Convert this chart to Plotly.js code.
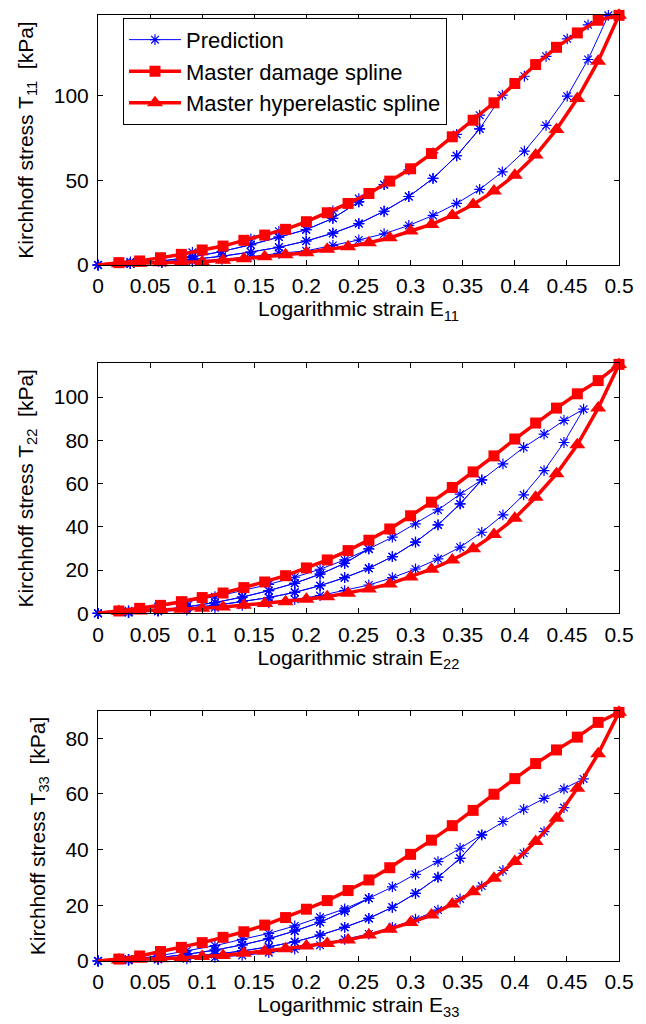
<!DOCTYPE html>
<html>
<head>
<meta charset="utf-8">
<script src="https://cdn.plot.ly/plotly-3.0.1.min.js"></script>
<style>html,body{margin:0;padding:0;background:#fff;}</style>
</head>
<body>
<div id="chart" style="width:646px;height:1024px;"></div>
<script>
// ---------- DATA ----------
// Master splines (common strain grid)
const splineStrain = [0,0.02,0.04,0.06,0.08,0.10,0.12,0.14,0.16,0.18,0.20,0.22,0.24,0.26,0.28,0.30,0.32,0.34,0.36,0.38,0.40,0.42,0.44,0.46,0.48,0.50];

const damage11 = [0,1.4,2.4,4.3,6.3,8.9,11.2,14.6,17.7,21.1,25.6,30.9,36.4,42.3,49.6,56.9,65.9,75.8,85.6,95.9,107.3,118.5,128.7,137.2,144.7,147.6];
const hyper11  = [0,0.8,1.0,1.4,1.6,2.0,2.8,3.7,4.9,6.1,7.3,9.3,10.8,13.2,16.1,20.1,24.0,29.3,35.8,43.7,53.1,65.0,80.1,98.4,120.5,147.6];

const damage22 = [0,1.1,2.3,3.7,5.4,7.3,9.4,11.9,14.5,17.4,21.0,24.7,29.0,33.8,39.0,45.1,51.4,58.2,65.4,72.8,80.6,88.0,94.9,101.5,107.6,115.1];
const hyper22  = [0,0.8,1.1,1.5,1.9,2.3,2.9,3.7,4.6,5.4,6.5,7.7,9.3,11.3,13.6,16.8,20.4,24.7,29.9,36.4,44.0,53.7,64.5,77.9,94.9,115.1];

const damage33 = [0,0.7,1.8,3.4,4.9,6.6,8.5,10.5,12.9,15.6,18.6,21.7,25.3,29.1,33.5,38.3,43.4,48.6,54.1,59.9,65.5,70.9,75.8,80.4,85.7,89.3];
const hyper33  = [0,0.4,0.6,0.8,1.1,1.6,2.0,2.8,3.5,4.4,5.4,6.3,7.5,9.3,11.4,13.8,16.5,20.5,24.9,29.7,35.7,42.9,51.3,62.0,74.4,89.3];

// Prediction strain steps
const predStrain11 = [0,0.0311,0.0613,0.0906,0.1190,0.1467,0.1736,0.1998,0.2254,0.2503,0.2746,0.2983,0.3215,0.3442,0.3663,0.3880,0.4092,0.4300,0.4503,0.4703,0.4898];
const predStrain22 = [0,0.0293,0.0577,0.0853,0.1122,0.1384,0.1639,0.1888,0.2131,0.2367,0.2599,0.2825,0.3047,0.3263,0.3475,0.3683,0.3886,0.4085,0.4281,0.4472,0.4660];
const predStrain33 = [0,0.0293,0.0577,0.0853,0.1122,0.1384,0.1639,0.1888,0.2131,0.2367,0.2599,0.2825,0.3047,0.3263,0.3475,0.3683,0.3886,0.4085,0.4281,0.4472,0.4660];

// Prediction: primary loading path and unloading/reloading branches
const load11    = [0,1.9,4.4,7.5,11.1,15.5,20.0,25.4,32.0,39.3,47.5,56.3,66.3,77.2,88.6,100.4,111.6,123.4,133.7,142.0,147.6];
const unloadA11 = [0,0.9,2.4,4.8,8.0,12.0,16.5,20.9,27.6,37.3,47.5];
const unloadB11 = [0,0.8,1.8,3.3,5.2,7.7,10.5,14.2,18.8,24.5,31.8,40.5,51.2,64.6,80.5];
const unloadC11 = [0,0.8,1.4,2.2,3.3,4.9,6.9,8.4,11.6,14.8,18.5,23.4,29.3,36.4,44.7,55.1,67.3,82.5,99.8,121.5,147.6];

const load22    = [0,1.2,3.0,5.3,7.7,10.5,13.4,16.7,20.4,24.7,29.8,35.2,41.4,47.8,55.1,61.7,69.1,76.7,82.9,89.2,94.4];
const unloadA22 = [0,0.6,1.5,3.0,5.0,7.5,10.5,13.9,18.1,23.1,29.8];
const unloadB22 = [0,0.5,1.3,2.4,3.7,5.4,7.3,9.7,12.8,16.5,20.8,26.2,32.9,40.9,50.6,61.7];
const unloadC22 = [0,0.4,0.9,1.5,2.6,3.7,4.9,6.5,8.2,10.5,13.1,16.5,20.5,25.2,30.6,37.5,45.5,54.8,66.0,79.0,94.4];

const load33    = [0,0.6,1.8,3.7,5.5,7.8,9.9,12.6,15.7,18.7,22.5,26.6,31.1,35.7,40.5,45.3,50.1,54.5,58.4,61.8,65.4];
const unloadA33 = [0,0.5,1.2,2.4,3.9,5.8,8.0,10.8,13.9,17.9,22.5];
const unloadB33 = [0,0.4,0.8,1.6,2.4,3.6,5.1,6.9,9.3,12.1,15.3,19.3,24.3,30.1,36.9,45.3];
const unloadC33 = [0,0.2,0.5,0.8,1.3,2.0,3.0,4.3,5.7,7.8,9.7,12.1,15.0,18.3,22.3,26.9,32.5,38.7,46.5,55.1,65.4];

const seriesNames = ['Prediction','Master damage spline','Master hyperelastic spline'];
const xTitles = ['Logarithmic strain E<sub>11</sub>','Logarithmic strain E<sub>22</sub>','Logarithmic strain E<sub>33</sub>'];
const yTitles = ['Kirchhoff stress T<sub>11</sub>  [kPa]','Kirchhoff stress T<sub>22</sub>  [kPa]','Kirchhoff stress T<sub>33</sub>  [kPa]'];

// ---------- BUILD ----------
// loading path: load to each peak, unload to zero, reload on the same branch, continue loading
function buildPath(xs, load, branches) {
  const px = [], py = [];
  let k = 0;
  branches.forEach((br, bi) => {
    const p = br.length - 1;
    for (; k <= p; k++) { px.push(xs[k]); py.push(load[k]); }
    for (let j = p; j >= 0; j--) {
      if (j === p && br[j] === load[p]) continue;
      px.push(xs[j]); py.push(br[j]);
    }
    if (bi < branches.length - 1) {
      for (let j = 1; j <= p; j++) { px.push(xs[j]); py.push(br[j]); }
    }
  });
  return {px, py};
}

const panels = [
  {xs: predStrain11, load: load11, br: [unloadA11, unloadB11, unloadC11], dmg: damage11, hyp: hyper11},
  {xs: predStrain22, load: load22, br: [unloadA22, unloadB22, unloadC22], dmg: damage22, hyp: hyper22},
  {xs: predStrain33, load: load33, br: [unloadA33, unloadB33, unloadC33], dmg: damage33, hyp: hyper33}
];

const blue = '#0000ff', red = '#ff0000';
const fontFam = 'Liberation Sans, Arial, Helvetica, sans-serif';
const redLine = {color: red, width: 3.5};

const traces = [];
panels.forEach((p, i) => {
  const xa = i === 0 ? 'x' : 'x' + (i + 1);
  const ya = i === 0 ? 'y' : 'y' + (i + 1);
  const path = buildPath(p.xs, p.load, p.br);
  traces.push({
    x: path.px, y: path.py, xaxis: xa, yaxis: ya, type: 'scatter', mode: 'lines+markers',
    name: seriesNames[0], showlegend: i === 0, legendgroup: 'a', cliponaxis: false,
    line: {color: blue, width: 1},
    marker: {symbol: 'asterisk-open', size: 9, color: blue, line: {color: blue, width: 1.2}}
  });
  // spline segments from the origin to the first marked point (no marker at the origin)
  [p.dmg, p.hyp].forEach(arr => {
    traces.push({
      x: splineStrain.slice(0, 2), y: arr.slice(0, 2), xaxis: xa, yaxis: ya, type: 'scatter', mode: 'lines',
      showlegend: false, hoverinfo: 'skip', line: redLine
    });
  });
  traces.push({
    x: splineStrain.slice(1), y: p.dmg.slice(1), xaxis: xa, yaxis: ya, type: 'scatter', mode: 'lines+markers',
    name: seriesNames[1], showlegend: i === 0, legendgroup: 'b', cliponaxis: false,
    line: redLine,
    marker: {symbol: 'square', size: 11, color: red, line: {color: red, width: 0}}
  });
  traces.push({
    x: splineStrain.slice(1), y: p.hyp.slice(1), xaxis: xa, yaxis: ya, type: 'scatter', mode: 'lines+markers',
    name: seriesNames[2], showlegend: i === 0, legendgroup: 'c', cliponaxis: false,
    line: redLine,
    marker: {symbol: 'triangle-up', size: 14, color: red, line: {color: red, width: 0}}
  });
});

const tickFont = {family: fontFam, size: 21, color: '#000'};
function xAxis(i, anchor) {
  return {
    anchor: anchor, domain: [0, 1], range: [0, 0.5], tick0: 0, dtick: 0.05,
    ticks: 'inside', ticklen: 5, tickwidth: 1, tickcolor: '#000',
    showline: true, linecolor: '#000', linewidth: 1, mirror: 'ticks',
    showgrid: false, zeroline: false, automargin: false,
    tickfont: tickFont, ticklabelstandoff: 2,
    title: {text: xTitles[i], font: {family: fontFam, size: 21, color: '#000'}, standoff: 0}
  };
}
function yAxis(i, anchor, dom, rng, dt) {
  return {
    anchor: anchor, domain: dom, range: rng, tick0: 0, dtick: dt,
    ticks: 'inside', ticklen: 5, tickwidth: 1, tickcolor: '#000',
    showline: true, linecolor: '#000', linewidth: 1, mirror: 'ticks',
    showgrid: false, zeroline: false, automargin: false,
    tickfont: tickFont, ticklabelstandoff: 4,
    title: {text: yTitles[i], font: {family: fontFam, size: 21, color: '#000'}, standoff: 14}
  };
}

const layout = {
  width: 646, height: 1024,
  margin: {l: 98, r: 27, t: 15, b: 63, pad: 0},
  paper_bgcolor: '#fff', plot_bgcolor: '#fff',
  font: {family: fontFam, size: 21, color: '#000'},
  showlegend: true,
  legend: {
    x: 0.048, y: 0.997, xanchor: 'left', yanchor: 'top',
    bgcolor: '#fff', bordercolor: '#000', borderwidth: 1,
    font: {family: fontFam, size: 22, color: '#000'},
    traceorder: 'grouped', tracegroupgap: 0, itemwidth: 52
  },
  xaxis: xAxis(0, 'y'),
  yaxis: yAxis(0, 'x', [0.7357, 1.0], [0, 147.8], 50),
  xaxis2: xAxis(1, 'y2'),
  yaxis2: yAxis(1, 'x2', [0.3675, 0.6318], [0, 115.6], 20),
  xaxis3: xAxis(2, 'y3'),
  yaxis3: yAxis(2, 'x3', [0, 0.2643], [0, 89.8], 20)
};

Plotly.newPlot('chart', traces, layout, {staticPlot: true, displayModeBar: false});
</script>
</body>
</html>
